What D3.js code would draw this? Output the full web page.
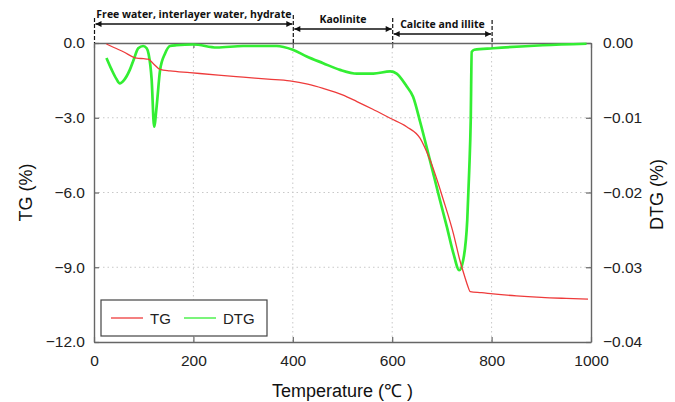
<!DOCTYPE html>
<html>
<head>
<meta charset="utf-8">
<script src="https://cdn.jsdelivr.net/npm/d3@7/dist/d3.min.js"></script>
<style>
  body { margin: 0; background: #fff; }
  svg { display: block; }
</style>
</head>
<body>
<svg id="chart" width="675" height="402"></svg>
<script>
// ---- Data ----
const tgTemp = [25, 40, 59, 86, 100, 109, 119, 133, 153, 193, 250, 300, 350, 394, 430, 461, 500, 529, 560, 596, 629, 656, 676, 703, 723, 736, 746, 752, 757, 780, 803, 850, 900, 950, 994];
const tgVal  = [-0.04, -0.18, -0.35, -0.61, -0.63, -0.65, -0.82, -1.06, -1.12, -1.19, -1.29, -1.37, -1.45, -1.52, -1.65, -1.82, -2.08, -2.35, -2.65, -3.02, -3.36, -3.82, -4.69, -6.3, -7.64, -8.71, -9.38, -9.75, -9.98, -10.02, -10.07, -10.15, -10.21, -10.25, -10.28];

const dtgTemp = [25, 35, 45, 52, 60, 72, 80, 89, 99, 106, 110, 116, 121, 126, 133, 143, 153, 166, 200, 247, 300, 367, 400, 428, 461, 495, 529, 562, 596, 609, 629, 642, 656, 676, 696, 710, 723, 735, 743, 751, 755, 758, 760, 765, 803, 903, 991];
const dtgVal  = [-0.0020, -0.0035, -0.0048, -0.0054, -0.0050, -0.0036, -0.0022, -0.0007, -0.0004, -0.0007, -0.0015, -0.0049, -0.0112, -0.0085, -0.0036, -0.0014, -0.0004, -0.0003, -0.0002, -0.0006, -0.0004, -0.0004, -0.0009, -0.0018, -0.0027, -0.0036, -0.0041, -0.0041, -0.0038, -0.0041, -0.0058, -0.0072, -0.0105, -0.0157, -0.0210, -0.0246, -0.0281, -0.0304, -0.0290, -0.0237, -0.0170, -0.0103, -0.0012, -0.0009, -0.0007, -0.0003, -0.0001];

const xTicks = [0, 200, 400, 600, 800, 1000];
const tgTicks = [0, -3, -6, -9, -12];
const dtgTicks = [0, -0.01, -0.02, -0.03, -0.04];

const regionBounds = [0, 400, 600, 800];
const regionLabels = ["Free water, interlayer water, hydrate", "Kaolinite", "Calcite and illite"];

const seriesNames = ["TG", "DTG"];
const seriesColors = ["#ee3b3b", "#33ee33"];

// ---- Layout ----
const svg = d3.select("#chart");
const L = 94, R = 591, T = 43, B = 342;

const x = d3.scaleLinear().domain([0, 1000]).range([L, R]);
const yTG = d3.scaleLinear().domain([-12, 0]).range([B, T]);
const yDTG = d3.scaleLinear().domain([-0.04, 0]).range([B, T]);

const axisColor = "#666";
const fontMain = "'Liberation Sans', Arial, sans-serif";

// grid
const grid = svg.append("g");
xTicks.slice(1, -1).forEach(t => {
  grid.append("line").attr("x1", x(t)).attr("x2", x(t)).attr("y1", T).attr("y2", B)
    .attr("stroke", "#c8c8c8").attr("stroke-width", 1).attr("stroke-dasharray", "1.5,3");
});
tgTicks.slice(1, -1).forEach(t => {
  grid.append("line").attr("x1", L).attr("x2", R).attr("y1", yTG(t)).attr("y2", yTG(t))
    .attr("stroke", "#c8c8c8").attr("stroke-width", 1).attr("stroke-dasharray", "1.5,3");
});

// axes (inward ticks)
const gx = svg.append("g").attr("transform", `translate(0,${B})`)
  .call(d3.axisBottom(x).tickValues(xTicks).tickSizeInner(-5).tickSizeOuter(0).tickPadding(13).tickFormat(d3.format("d")));
const gxt = svg.append("g").attr("transform", `translate(0,${T})`)
  .call(d3.axisTop(x).tickValues(xTicks).tickSizeInner(-5).tickSizeOuter(0).tickFormat(""));
const gl = svg.append("g").attr("transform", `translate(${L},0)`)
  .call(d3.axisLeft(yTG).tickValues(tgTicks).tickSizeInner(-5).tickSizeOuter(0).tickPadding(9).tickFormat(d3.format(".1f")));
const gr = svg.append("g").attr("transform", `translate(${R},0)`)
  .call(d3.axisRight(yDTG).tickValues(dtgTicks).tickSizeInner(-5).tickSizeOuter(0).tickPadding(12).tickFormat(d3.format(".2f")));

[gx, gxt, gl, gr].forEach(g => {
  g.select(".domain").attr("stroke", axisColor).attr("stroke-width", 1.4);
  g.selectAll(".tick line").attr("stroke", axisColor).attr("stroke-width", 1.2);
  g.selectAll(".tick text").attr("fill", "#222").style("font-family", fontMain).style("font-size", "15.5px");
});
gr.selectAll(".tick text").attr("dy", "0.32em");

// lines
const tgData = tgTemp.map((t, i) => [t, tgVal[i]]);
const dtgData = dtgTemp.map((t, i) => [t, dtgVal[i]]);

svg.append("path").datum(dtgData)
  .attr("fill", "none").attr("stroke", seriesColors[1]).attr("stroke-width", 2.7).attr("stroke-linejoin", "round")
  .attr("d", d3.line().x(d => x(d[0])).y(d => yDTG(d[1])).curve(d3.curveMonotoneX));

svg.append("path").datum(tgData)
  .attr("fill", "none").attr("stroke", seriesColors[0]).attr("stroke-width", 1.3).attr("stroke-linejoin", "round")
  .attr("d", d3.line().x(d => x(d[0])).y(d => yTG(d[1])).curve(d3.curveMonotoneX));

// legend
const lg = svg.append("g");
lg.append("rect").attr("x", 101).attr("y", 300).attr("width", 166).attr("height", 36)
  .attr("fill", "#fff").attr("stroke", "#444").attr("stroke-width", 1.2);
const legendX = [111, 184];
seriesNames.forEach((n, i) => {
  lg.append("line").attr("x1", legendX[i]).attr("x2", legendX[i] + 32).attr("y1", 318).attr("y2", 318)
    .attr("stroke", seriesColors[i]).attr("stroke-width", 1.3);
  lg.append("text").attr("x", legendX[i] + 39).attr("y", 323.5).text(n)
    .attr("fill", "#222").style("font-family", fontMain).style("font-size", "15px");
});

// axis titles
svg.append("text").attr("x", (L + R) / 2).attr("y", 397).attr("text-anchor", "middle")
  .style("font-family", fontMain).style("font-size", "18px").attr("fill", "#111").text("Temperature (℃ )");
svg.append("text").attr("transform", `translate(32,${(T + B) / 2}) rotate(-90)`).attr("text-anchor", "middle")
  .style("font-family", fontMain).style("font-size", "18px").attr("fill", "#111").text("TG (%)");
svg.append("text").attr("transform", `translate(663,${(T + B) / 2 + 2}) rotate(-90)`).attr("text-anchor", "middle")
  .style("font-family", fontMain).style("font-size", "18px").attr("fill", "#111").text("DTG (%)");

// region annotations
const defs = svg.append("defs");
defs.append("marker").attr("id", "arr").attr("viewBox", "0 0 10 10").attr("refX", 10).attr("refY", 5)
  .attr("markerWidth", 8).attr("markerHeight", 6).attr("markerUnits", "userSpaceOnUse").attr("orient", "auto-start-reverse")
  .append("path").attr("d", "M0,0 L10,5 L0,10 z").attr("fill", "#111");

const dashTop = [18, 15, 18, 20];
regionBounds.forEach((b, i) => {
  svg.append("line").attr("x1", x(b) + 0.5).attr("x2", x(b) + 0.5).attr("y1", dashTop[i]).attr("y2", T)
    .attr("stroke", "#111").attr("stroke-width", 1.2).attr("stroke-dasharray", "4,2");
});
const arrowY = [24, 29, 34];
const labelY = [18, 23, 27.5];
regionLabels.forEach((lab, i) => {
  const x1 = x(regionBounds[i]) + 1.5, x2 = x(regionBounds[i + 1]) - 0.5;
  svg.append("line").attr("x1", x1).attr("x2", x2).attr("y1", arrowY[i]).attr("y2", arrowY[i])
    .attr("stroke", "#111").attr("stroke-width", 1.3)
    .attr("marker-start", "url(#arr)").attr("marker-end", "url(#arr)");
  svg.append("text").attr("x", (x1 + x2) / 2).attr("y", labelY[i]).attr("text-anchor", "middle")
    .style("font-family", "'Open Sans', sans-serif").style("font-weight", "bold").style("font-size", "10.5px")
    .attr("fill", "#111").text(lab);
});
</script>
</body>
</html>
